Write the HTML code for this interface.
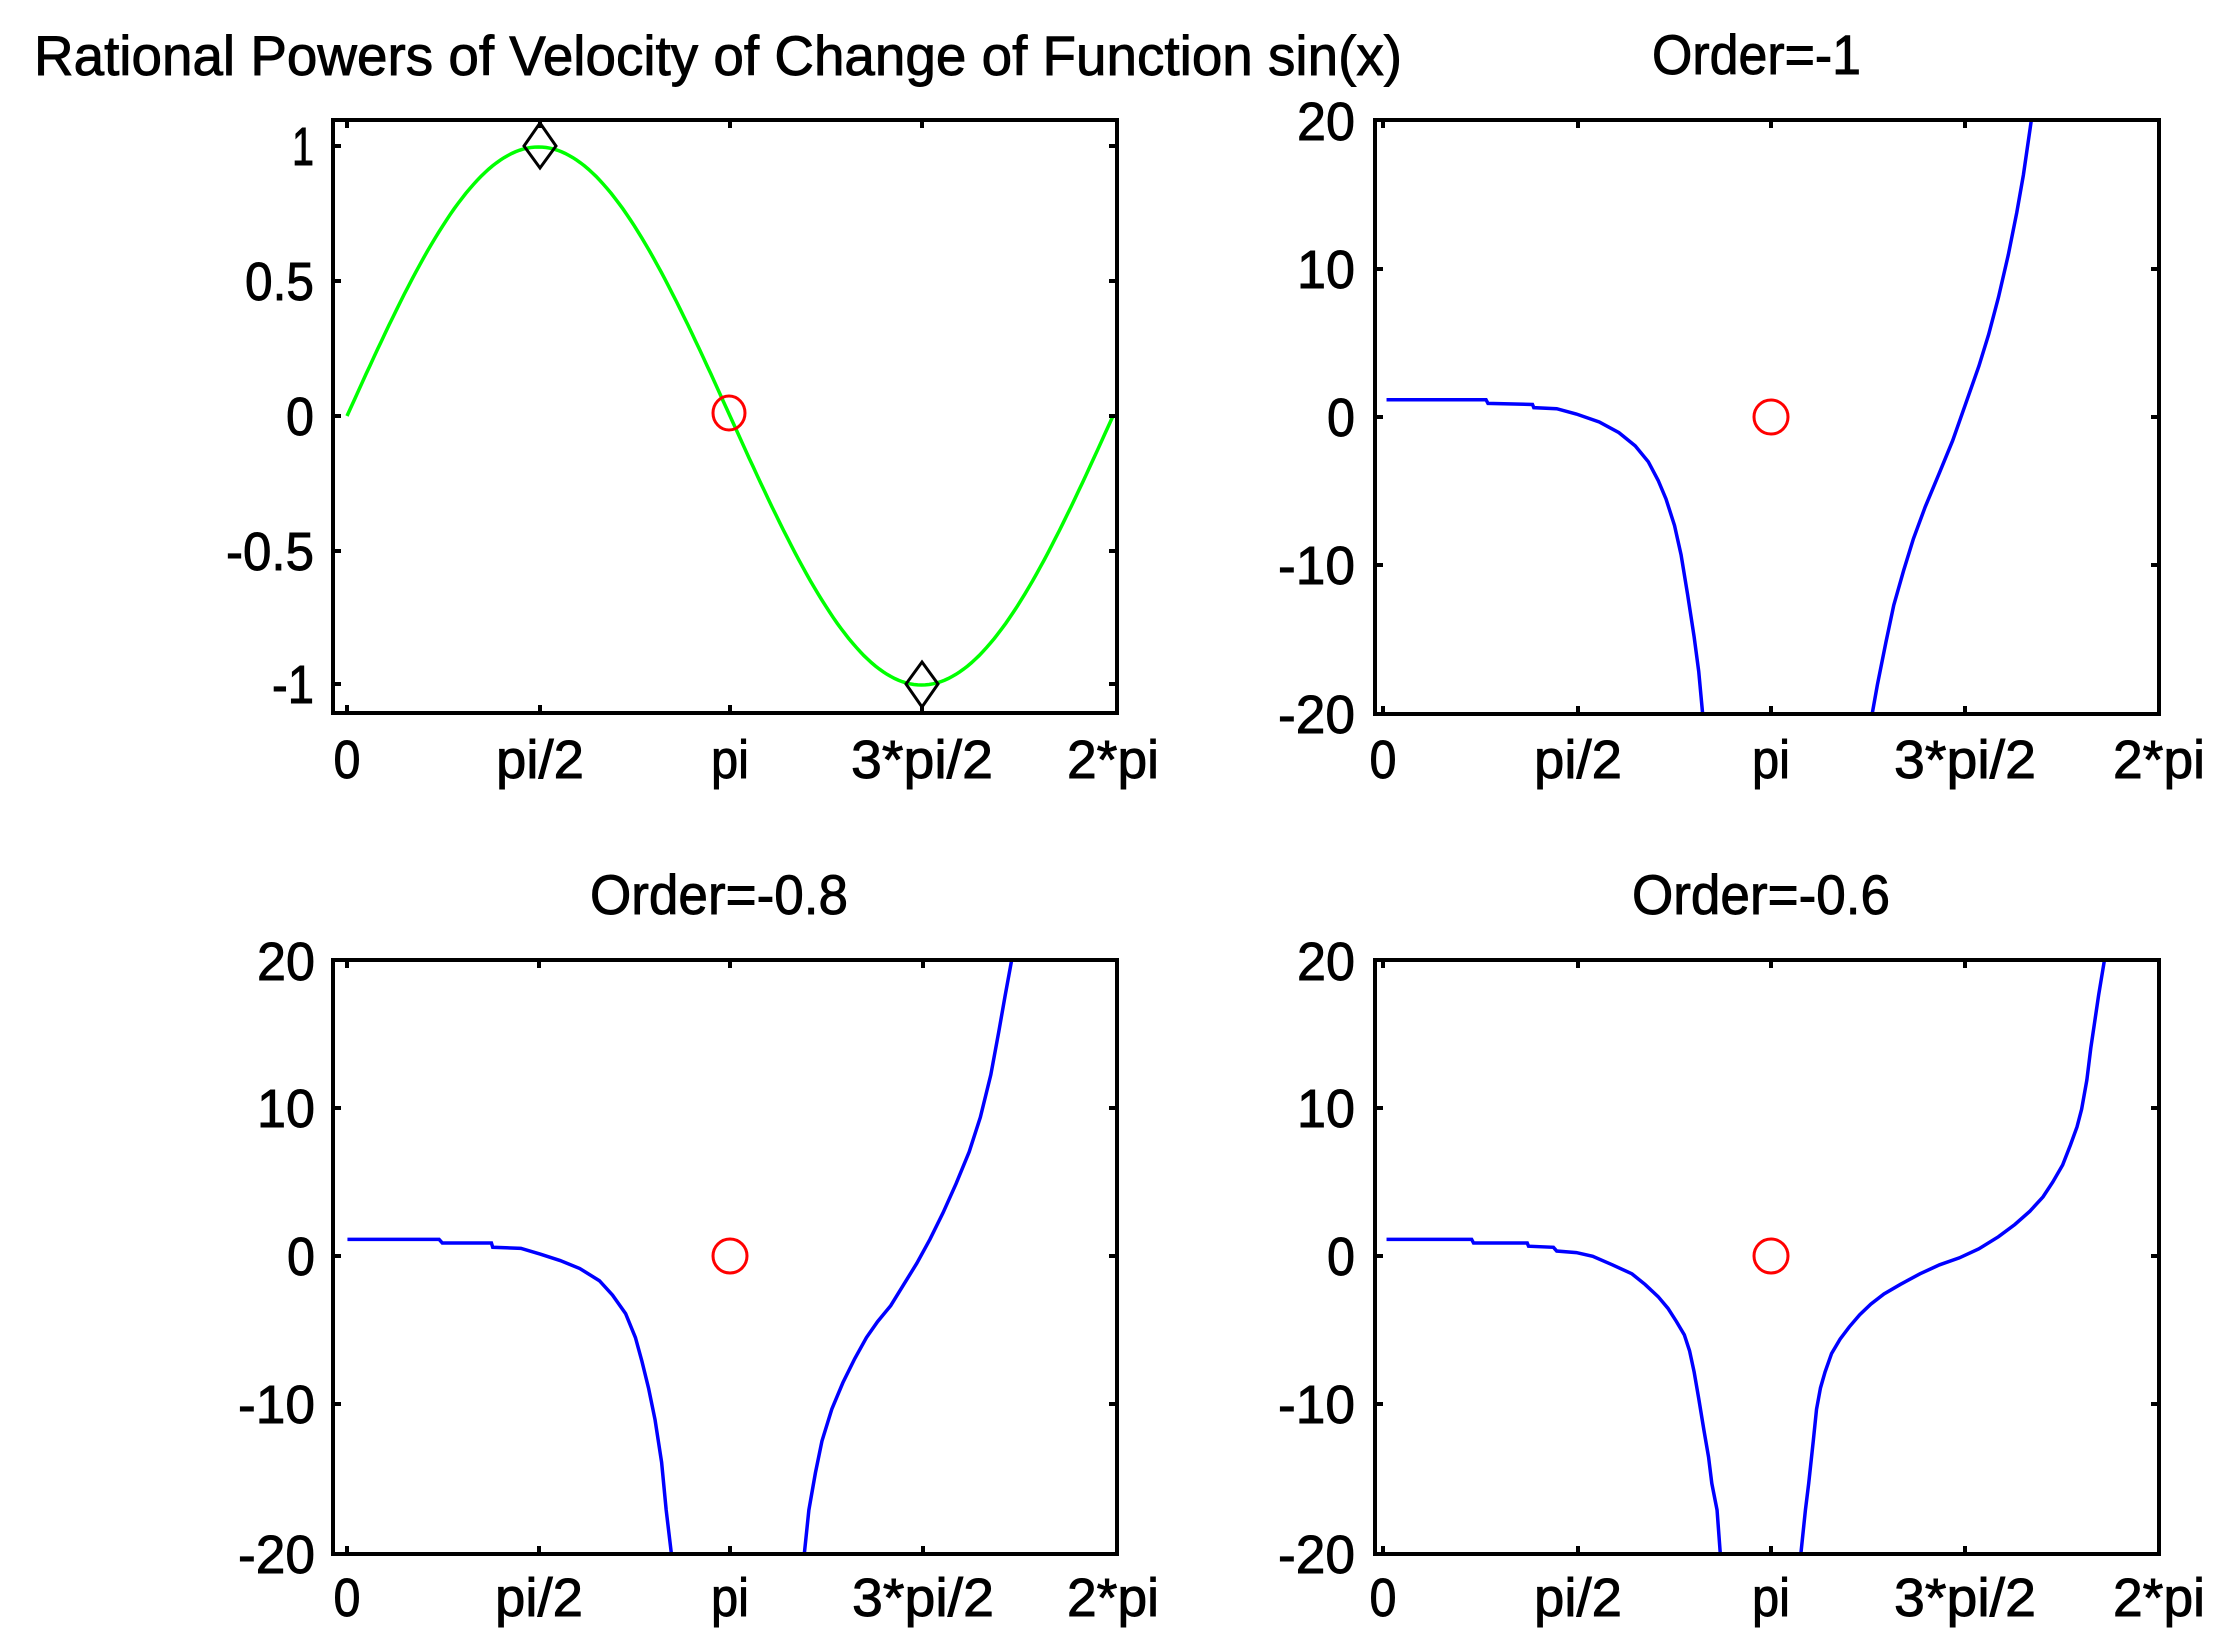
<!DOCTYPE html>
<html><head><meta charset="utf-8"><style>
html,body{margin:0;padding:0;background:#fff;}
svg{display:block;}
text{font-family:"Liberation Sans",sans-serif;fill:#000;stroke:#000;stroke-width:0.9;}
.ax{fill:none;stroke:#000;stroke-width:4;}
.tk{stroke:#000;stroke-width:4;}
.bl{fill:none;stroke:#0000ff;stroke-width:3.5;vector-effect:non-scaling-stroke;}
.rc{fill:none;stroke:#ff0000;stroke-width:3;}
</style></head><body>
<svg width="2226" height="1648" viewBox="0 0 2226 1648" xmlns="http://www.w3.org/2000/svg">
<rect width="2226" height="1648" fill="#fff"/>

<text x="34" y="75" font-size="56" textLength="1368" lengthAdjust="spacingAndGlyphs">Rational Powers of Velocity of Change of Function sin(x)</text>
<text x="1652" y="74" font-size="56" textLength="209" lengthAdjust="spacingAndGlyphs">Order=-1</text>
<text x="590" y="914" font-size="56" textLength="258" lengthAdjust="spacingAndGlyphs">Order=-0.8</text>
<text x="1632" y="914" font-size="56" textLength="258" lengthAdjust="spacingAndGlyphs">Order=-0.6</text>

<g>
<polyline id="sine" fill="none" stroke="#00ff00" stroke-width="3.5" points=""/>
<rect class="ax" x="333" y="120" width="784" height="593"/>
<g class="tk">
<line x1="347" y1="713" x2="347" y2="705"/><line x1="540" y1="713" x2="540" y2="705"/><line x1="730" y1="713" x2="730" y2="705"/><line x1="922" y1="713" x2="922" y2="705"/>
<line x1="347" y1="120" x2="347" y2="128"/><line x1="540" y1="120" x2="540" y2="128"/><line x1="730" y1="120" x2="730" y2="128"/><line x1="922" y1="120" x2="922" y2="128"/>
<line x1="333" y1="146" x2="341" y2="146"/><line x1="333" y1="281" x2="341" y2="281"/><line x1="333" y1="416" x2="341" y2="416"/><line x1="333" y1="551" x2="341" y2="551"/><line x1="333" y1="684" x2="341" y2="684"/>
<line x1="1117" y1="146" x2="1109" y2="146"/><line x1="1117" y1="281" x2="1109" y2="281"/><line x1="1117" y1="416" x2="1109" y2="416"/><line x1="1117" y1="551" x2="1109" y2="551"/><line x1="1117" y1="684" x2="1109" y2="684"/>
</g>
<polygon points="540,123 556,146 540,168 524,146" fill="none" stroke="#000" stroke-width="3"/>
<polygon points="922,662 938,684 922,707 906,684" fill="none" stroke="#000" stroke-width="3"/>
<ellipse class="rc" cx="729" cy="413" rx="16" ry="17"/>
<g font-size="54" text-anchor="end">
<text x="314" y="165" textLength="22" lengthAdjust="spacingAndGlyphs">1</text>
<text x="314" y="300" textLength="69" lengthAdjust="spacingAndGlyphs">0.5</text>
<text x="314" y="435" textLength="28" lengthAdjust="spacingAndGlyphs">0</text>
<text x="314" y="570" textLength="88" lengthAdjust="spacingAndGlyphs">-0.5</text>
<text x="314" y="703" textLength="42" lengthAdjust="spacingAndGlyphs">-1</text>
</g>
<g font-size="54" text-anchor="middle">
<text x="347" y="778" textLength="27" lengthAdjust="spacingAndGlyphs">0</text>
<text x="540" y="778" textLength="88" lengthAdjust="spacingAndGlyphs">pi/2</text>
<text x="730" y="778" textLength="38" lengthAdjust="spacingAndGlyphs">pi</text>
<text x="922" y="778" textLength="142" lengthAdjust="spacingAndGlyphs">3*pi/2</text>
<text x="1113" y="778" textLength="92" lengthAdjust="spacingAndGlyphs">2*pi</text>
</g>
</g>

<g>
<g transform="translate(1200,0) scale(0.6545,0.5308)">
<polyline class="bl" points="285,753 437,753 440,760 508,762 510,768 545,770 575,780 610,795 640,815 665,840 685,870 700,905 712,940 725,990 735,1045 745,1120 755,1200 762,1265 768,1345"/>
<polyline class="bl" points="1027,1345 1035,1290 1048,1210 1060,1140 1075,1075 1090,1015 1108,955 1130,890 1150,830 1170,760 1190,690 1205,630 1220,560 1235,480 1248,400 1258,330 1270,228"/>
</g>
<rect class="ax" x="1375" y="120" width="784" height="594"/>
<g class="tk">
<line x1="1383" y1="714" x2="1383" y2="706"/><line x1="1578" y1="714" x2="1578" y2="706"/><line x1="1771" y1="714" x2="1771" y2="706"/><line x1="1965" y1="714" x2="1965" y2="706"/>
<line x1="1383" y1="120" x2="1383" y2="128"/><line x1="1578" y1="120" x2="1578" y2="128"/><line x1="1771" y1="120" x2="1771" y2="128"/><line x1="1965" y1="120" x2="1965" y2="128"/>
<line x1="2159" y1="269" x2="2151" y2="269"/><line x1="2159" y1="417" x2="2151" y2="417"/><line x1="2159" y1="565" x2="2151" y2="565"/>
<line x1="1375" y1="269" x2="1383" y2="269"/><line x1="1375" y1="417" x2="1383" y2="417"/><line x1="1375" y1="565" x2="1383" y2="565"/>
</g>
<ellipse class="rc" cx="1771" cy="417" rx="17" ry="17"/>
<g font-size="54" text-anchor="end">
<text x="1355" y="140" textLength="58" lengthAdjust="spacingAndGlyphs">20</text>
<text x="1355" y="288" textLength="58" lengthAdjust="spacingAndGlyphs">10</text>
<text x="1355" y="436" textLength="28" lengthAdjust="spacingAndGlyphs">0</text>
<text x="1355" y="584" textLength="77" lengthAdjust="spacingAndGlyphs">-10</text>
<text x="1355" y="733" textLength="77" lengthAdjust="spacingAndGlyphs">-20</text>
</g>
<g font-size="54" text-anchor="middle">
<text x="1383" y="778" textLength="27" lengthAdjust="spacingAndGlyphs">0</text>
<text x="1578" y="778" textLength="88" lengthAdjust="spacingAndGlyphs">pi/2</text>
<text x="1771" y="778" textLength="38" lengthAdjust="spacingAndGlyphs">pi</text>
<text x="1965" y="778" textLength="142" lengthAdjust="spacingAndGlyphs">3*pi/2</text>
<text x="2159" y="778" textLength="92" lengthAdjust="spacingAndGlyphs">2*pi</text>
</g>
</g>

<g>
<g transform="translate(174,820) scale(0.6545,0.5308)">
<polyline class="bl" points="265,790 405,790 410,797 485,797 487,805 530,807 560,818 590,830 620,845 650,868 670,895 690,930 705,975 715,1020 725,1070 735,1130 745,1210 752,1300 760,1383"/>
<polyline class="bl" points="963,1383 970,1300 980,1230 990,1170 1005,1110 1022,1060 1040,1015 1058,975 1075,945 1095,915 1115,875 1135,835 1155,790 1175,740 1195,685 1215,625 1232,560 1248,480 1260,400 1270,330 1280,263"/>
</g>
<rect class="ax" x="333" y="960" width="784" height="594"/>
<g class="tk">
<line x1="347" y1="1554" x2="347" y2="1546"/><line x1="539" y1="1554" x2="539" y2="1546"/><line x1="730" y1="1554" x2="730" y2="1546"/><line x1="923" y1="1554" x2="923" y2="1546"/>
<line x1="347" y1="960" x2="347" y2="968"/><line x1="539" y1="960" x2="539" y2="968"/><line x1="730" y1="960" x2="730" y2="968"/><line x1="923" y1="960" x2="923" y2="968"/>
<line x1="1117" y1="1108" x2="1109" y2="1108"/><line x1="1117" y1="1256" x2="1109" y2="1256"/><line x1="1117" y1="1404" x2="1109" y2="1404"/>
<line x1="333" y1="1108" x2="341" y2="1108"/><line x1="333" y1="1256" x2="341" y2="1256"/><line x1="333" y1="1404" x2="341" y2="1404"/>
</g>
<ellipse class="rc" cx="730" cy="1256" rx="17" ry="17"/>
<g font-size="54" text-anchor="end">
<text x="315" y="980" textLength="58" lengthAdjust="spacingAndGlyphs">20</text>
<text x="315" y="1127" textLength="58" lengthAdjust="spacingAndGlyphs">10</text>
<text x="315" y="1275" textLength="28" lengthAdjust="spacingAndGlyphs">0</text>
<text x="315" y="1423" textLength="77" lengthAdjust="spacingAndGlyphs">-10</text>
<text x="315" y="1573" textLength="77" lengthAdjust="spacingAndGlyphs">-20</text>
</g>
<g font-size="54" text-anchor="middle">
<text x="347" y="1616" textLength="27" lengthAdjust="spacingAndGlyphs">0</text>
<text x="539" y="1616" textLength="88" lengthAdjust="spacingAndGlyphs">pi/2</text>
<text x="730" y="1616" textLength="38" lengthAdjust="spacingAndGlyphs">pi</text>
<text x="923" y="1616" textLength="142" lengthAdjust="spacingAndGlyphs">3*pi/2</text>
<text x="1113" y="1616" textLength="92" lengthAdjust="spacingAndGlyphs">2*pi</text>
</g>
</g>

<g>
<g transform="translate(1200,820) scale(0.6545,0.5308)">
<polyline class="bl" points="285,790 415,790 418,797 500,797 502,803 540,805 545,812 575,815 600,822 630,838 660,855 680,875 700,898 715,920 728,945 740,970 748,1000 755,1040 762,1090 770,1150 777,1200 782,1250 790,1300 795,1383"/>
<polyline class="bl" points="918,1383 925,1300 930,1250 937,1170 942,1110 948,1070 955,1040 965,1005 978,978 992,955 1008,932 1025,912 1045,893 1070,875 1100,855 1130,838 1160,825 1190,808 1220,785 1245,762 1268,737 1288,710 1303,682 1318,650 1330,612 1340,578 1347,545 1355,490 1361,430 1367,380 1373,330 1382,263"/>
</g>
<rect class="ax" x="1375" y="960" width="784" height="594"/>
<g class="tk">
<line x1="1383" y1="1554" x2="1383" y2="1546"/><line x1="1578" y1="1554" x2="1578" y2="1546"/><line x1="1771" y1="1554" x2="1771" y2="1546"/><line x1="1965" y1="1554" x2="1965" y2="1546"/>
<line x1="1383" y1="960" x2="1383" y2="968"/><line x1="1578" y1="960" x2="1578" y2="968"/><line x1="1771" y1="960" x2="1771" y2="968"/><line x1="1965" y1="960" x2="1965" y2="968"/>
<line x1="2159" y1="1108" x2="2151" y2="1108"/><line x1="2159" y1="1256" x2="2151" y2="1256"/><line x1="2159" y1="1404" x2="2151" y2="1404"/>
<line x1="1375" y1="1108" x2="1383" y2="1108"/><line x1="1375" y1="1256" x2="1383" y2="1256"/><line x1="1375" y1="1404" x2="1383" y2="1404"/>
</g>
<ellipse class="rc" cx="1771" cy="1256" rx="17" ry="17"/>
<g font-size="54" text-anchor="end">
<text x="1355" y="980" textLength="58" lengthAdjust="spacingAndGlyphs">20</text>
<text x="1355" y="1127" textLength="58" lengthAdjust="spacingAndGlyphs">10</text>
<text x="1355" y="1275" textLength="28" lengthAdjust="spacingAndGlyphs">0</text>
<text x="1355" y="1423" textLength="77" lengthAdjust="spacingAndGlyphs">-10</text>
<text x="1355" y="1573" textLength="77" lengthAdjust="spacingAndGlyphs">-20</text>
</g>
<g font-size="54" text-anchor="middle">
<text x="1383" y="1616" textLength="27" lengthAdjust="spacingAndGlyphs">0</text>
<text x="1578" y="1616" textLength="88" lengthAdjust="spacingAndGlyphs">pi/2</text>
<text x="1771" y="1616" textLength="38" lengthAdjust="spacingAndGlyphs">pi</text>
<text x="1965" y="1616" textLength="142" lengthAdjust="spacingAndGlyphs">3*pi/2</text>
<text x="2159" y="1616" textLength="92" lengthAdjust="spacingAndGlyphs">2*pi</text>
</g>
</g>
</svg>
<script>
(function(){
  var pts=[];
  for(var i=0;i<=200;i++){
    var t=i/200*2*Math.PI;
    var x=347+(1113-347)*i/200;
    var y=416-269*Math.sin(t);
    pts.push(x.toFixed(1)+","+y.toFixed(1));
  }
  document.getElementById("sine").setAttribute("points",pts.join(" "));
})();
</script>
</body></html>
